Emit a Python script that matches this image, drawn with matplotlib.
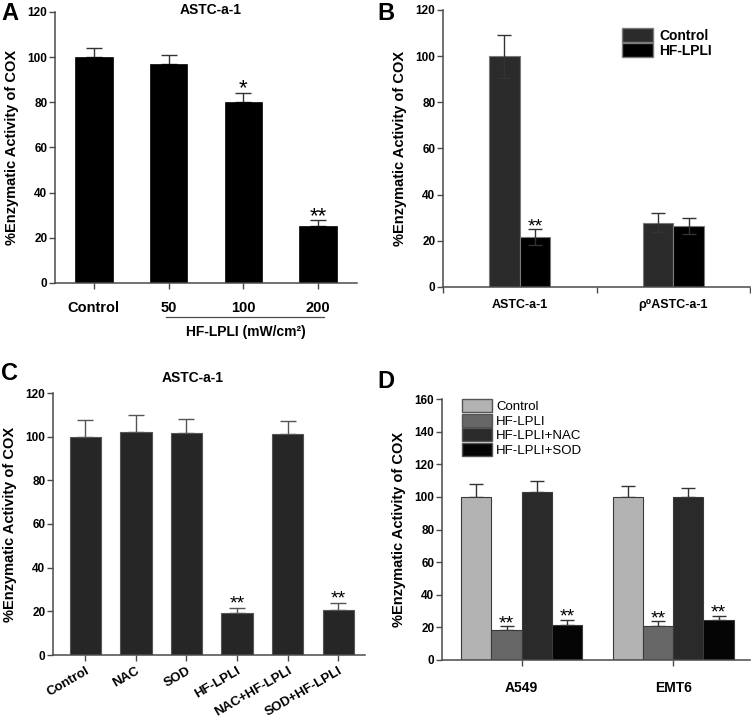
import numpy as np
import matplotlib
matplotlib.use("Agg")
import matplotlib.pyplot as plt
from matplotlib.patches import Patch

plt.rcParams['font.family'] = ['Liberation Sans', 'DejaVu Sans']
plt.rcParams['font.weight'] = 'bold'

# panel A
a_labels = ["Control", "50", "100", "200"]
a_vals = [100.0, 96.8, 80.3, 25.3]
a_err = [4.0, 4.0, 3.9, 2.6]
a_stars = ["", "", "*", "**"]

# panel B
b_groups = ["ASTC-a-1", "ρ⁰ASTC-a-1"]
b_control = [100.0, 27.9]
b_control_err = [9.3, 4.2]
b_hf = [21.5, 26.3]
b_hf_err = [3.5, 3.5]

# panel C
c_labels = ["Control", "NAC", "SOD", "HF-LPLI", "NAC+HF-LPLI", "SOD+HF-LPLI"]
c_vals = [100.0, 102.3, 101.7, 19.1, 101.4, 20.6]
c_err = [7.5, 7.8, 6.4, 2.3, 5.8, 3.1]
c_stars = ["", "", "", "**", "", "**"]

# panel D
d_groups = ["A549", "EMT6"]
d_series = ["Control", "HF-LPLI", "HF-LPLI+NAC", "HF-LPLI+SOD"]
d_vals = [[100.0, 100.0], [18.2, 20.6], [102.8, 99.7], [21.3, 24.7]]
d_err = [[7.6, 6.9], [2.4, 3.1], [7.1, 5.7], [3.4, 2.5]]
d_stars = [["", ""], ["**", "**"], ["", ""], ["**", "**"]]

W, H = 751, 723
fig = plt.figure(figsize=(W / 100, H / 100), dpi=100)


def px_axes(left, right, top, bottom):
    return fig.add_axes([left / W, 1 - bottom / H, (right - left) / W, (bottom - top) / H])


spine_c = "#4a4a4a"


def style(ax, ytick_size=8.5):
    for s in ["top", "right"]:
        ax.spines[s].set_visible(False)
    for s in ["left", "bottom"]:
        ax.spines[s].set_color(spine_c)
        ax.spines[s].set_linewidth(1.1)
    ax.tick_params(axis="both", colors=spine_c, length=4, width=1.0, direction="out")
    ax.tick_params(axis="y", labelsize=ytick_size, labelcolor="black", pad=1.5)
    ax.tick_params(axis="x", labelcolor="black")
    for t in ax.get_yticklabels():
        t.set_fontweight("bold")


def star(ax, x, y, s, fs):
    # y is where the middle of the asterisks should sit
    ax.annotate(s, (x, y), xytext=(0, -0.59 * fs), textcoords="offset points",
                ha="center", va="baseline", fontsize=fs, fontweight="normal")


# ---- A ----
axA = px_axes(55, 357, 12, 283)
xa = np.arange(len(a_vals))
axA.bar(xa, a_vals, width=0.5, color="black", edgecolor="black", linewidth=0.5, zorder=2)
axA.errorbar(xa, a_vals, yerr=[np.zeros(len(a_err)), a_err], fmt="none",
             ecolor="#333333", elinewidth=1.0, capsize=6, capthick=1.0, zorder=1)
for x, v, e, s in zip(xa, a_vals, a_err, a_stars):
    if s:
        star(axA, x, v + e + 5.0, s, 16)
axA.set_xlim(-0.52, 3.52)
axA.set_ylim(0, 120)
axA.set_yticks(range(0, 121, 20))
axA.set_xticks(xa)
axA.set_xticklabels(a_labels, fontsize=10.5, fontweight="bold")
style(axA)
axA.tick_params(axis="x", pad=9)
axA.set_ylabel("%Enzymatic Activity of COX", fontsize=10.5, fontweight="bold", labelpad=6)
axA.plot([0.97, 3.08], [-0.125, -0.125], color=spine_c, lw=0.9,
         transform=axA.get_xaxis_transform(), clip_on=False)
axA.text(2.03, -0.18, "HF-LPLI (mW/cm²)", ha="center", va="center", fontsize=10,
         fontweight="bold", transform=axA.get_xaxis_transform())
fig.text(211 / W, 1 - 10 / H, "ASTC-a-1", ha="center", va="center", fontsize=10, fontweight="bold")

# ---- B ----
axB = px_axes(443, 750, 10, 287)
xb = np.arange(len(b_groups)) + 0.5
axB.bar(xb - 0.1, b_control, width=0.2, color="#2b2b2b", edgecolor="#7a7a7a", linewidth=0.8, zorder=2)
axB.bar(xb + 0.1, b_hf, width=0.2, color="black", edgecolor="#7a7a7a", linewidth=0.8, zorder=2)
axB.errorbar(xb - 0.1, b_control, yerr=b_control_err, fmt="none", ecolor="#333333",
             elinewidth=1.0, capsize=5, capthick=1.0, zorder=3)
axB.errorbar(xb + 0.1, b_hf, yerr=b_hf_err, fmt="none", ecolor="#333333",
             elinewidth=1.0, capsize=5, capthick=1.0, zorder=3)
star(axB, xb[0] + 0.1, b_hf[0] + b_hf_err[0] + 4.0, "**", 14)
axB.set_xlim(0, 2)
axB.set_ylim(0, 120)
axB.set_yticks(range(0, 121, 20))
axB.set_xticks([0, 1, 2])
axB.set_xticklabels([])
axB.set_xticks(xb, minor=True)
axB.set_xticklabels(b_groups, minor=True, fontsize=9, fontweight="bold")
style(axB)
axB.tick_params(axis="x", which="minor", length=0, pad=9)
axB.set_ylabel("%Enzymatic Activity of COX", fontsize=10.5, fontweight="bold", labelpad=6)
axB.legend(handles=[Patch(facecolor="#2b2b2b", edgecolor="#7a7a7a", label="Control"),
                    Patch(facecolor="black", edgecolor="#7a7a7a", label="HF-LPLI")],
           loc="upper left", bbox_to_anchor=(0.583, 0.935), frameon=False,
           prop={"size": 10, "weight": "bold"}, handlelength=2.2, handleheight=1.15,
           labelspacing=0.05, handletextpad=0.5, borderpad=0, borderaxespad=0)

# ---- C ----
axC = px_axes(53, 365, 393, 655)
xc = np.arange(len(c_vals))
axC.bar(xc, c_vals, width=0.62, color="#262626", edgecolor="#555555", linewidth=0.8, zorder=2)
axC.errorbar(xc, c_vals, yerr=[np.zeros(len(c_err)), c_err], fmt="none",
             ecolor="#555555", elinewidth=1.0, capsize=6, capthick=1.0, zorder=1)
for x, v, e, s in zip(xc, c_vals, c_err, c_stars):
    if s:
        star(axC, x, v + e + 5.0, s, 14)
axC.set_xlim(-0.64, 5.53)
axC.set_ylim(0, 120)
axC.set_yticks(range(0, 121, 20))
axC.set_xticks(xc)
axC.set_xticklabels(c_labels, fontsize=9.5, fontweight="bold", rotation=30,
                    ha="right", rotation_mode="anchor")
style(axC)
axC.tick_params(axis="x", pad=3)
axC.set_ylabel("%Enzymatic Activity of COX", fontsize=10.5, fontweight="bold", labelpad=6)
fig.text(193 / W, 1 - 378 / H, "ASTC-a-1", ha="center", va="center", fontsize=10, fontweight="bold")

# ---- D ----
axD = px_axes(442, 750, 399, 660)
xd = np.arange(len(d_groups))
d_colors = ["#b3b3b3", "#676767", "#2a2a2a", "#050505"]
offsets = [-0.3, -0.1, 0.1, 0.3]
handles = []
for i, name in enumerate(d_series):
    axD.bar(xd + offsets[i], d_vals[i], width=0.2, color=d_colors[i], edgecolor="#3a3a3a",
            linewidth=0.8, zorder=2)
    axD.errorbar(xd + offsets[i], d_vals[i], yerr=[np.zeros(2), d_err[i]], fmt="none",
                 ecolor="#333333", elinewidth=1.0, capsize=5, capthick=1.0, zorder=1)
    for j in range(len(d_groups)):
        if d_stars[i][j]:
            star(axD, xd[j] + offsets[i], d_vals[i][j] + d_err[i][j] + 6.0, d_stars[i][j], 14)
    handles.append(Patch(facecolor=d_colors[i], edgecolor="#555555", label=name))
axD.set_xlim(-0.526, 1.507)
axD.set_ylim(0, 160)
axD.set_yticks(range(0, 161, 20))
axD.set_xticks(xd)
axD.set_xticklabels(d_groups, fontsize=10, fontweight="bold")
style(axD)
axD.tick_params(axis="x", pad=11)
axD.set_ylabel("%Enzymatic Activity of COX", fontsize=10.5, fontweight="bold", labelpad=6)
axD.legend(handles=handles, loc="upper left", bbox_to_anchor=(0.065, 1.0), frameon=False,
           prop={"size": 9.5, "weight": "normal"}, handlelength=2.3, handleheight=1.15,
           labelspacing=0.05, handletextpad=0.3, borderpad=0, borderaxespad=0)

# panel letters
for letter, (x, y) in {"A": (1, 2), "B": (377, 2), "C": (1, 362), "D": (377, 370)}.items():
    fig.text(x / W, 1 - y / H, letter, ha="left", va="top", fontsize=17, fontweight="bold")

fig.savefig("out.png", dpi=100)
